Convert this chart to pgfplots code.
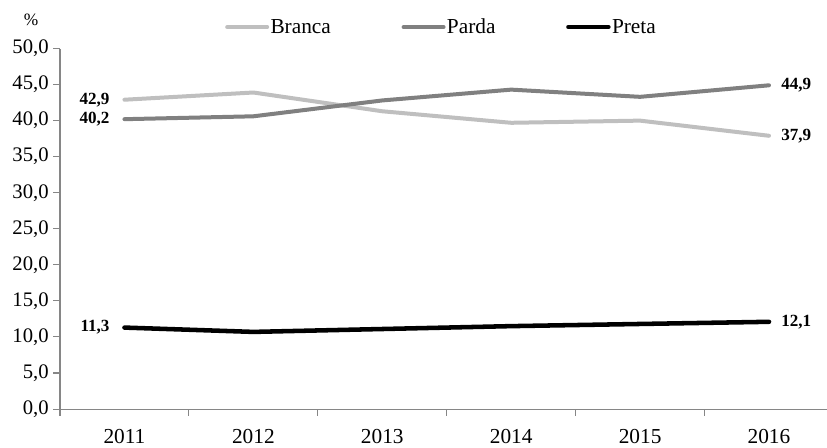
\documentclass[border=0pt]{standalone}
\usepackage{fontspec}
\setmainfont{Liberation Serif}
\usepackage{pgfplots}
\pgfplotsset{compat=1.18}
\definecolor{branca}{RGB}{191,191,191}
\definecolor{parda}{RGB}{128,128,128}
\definecolor{preta}{RGB}{0,0,0}
\definecolor{axisgray}{RGB}{134,134,134}
\begin{document}
\begin{tikzpicture}
\begin{axis}[
  name=ax,
  scale only axis,
  clip=false,
  width=575.25pt, height=270.4pt,
  xmin=-0.5, xmax=5.45,
  ymin=0, ymax=50,
  axis x line*=bottom, axis y line*=left,
  axis line style={draw=axisgray, line width=0.8pt},
  tick align=outside,
  major tick length=5pt,
  tick style={draw=axisgray, line width=0.8pt},
  xtick={0,...,5},
  xticklabels={2011,2012,2013,2014,2015,2016},
  xtick style={draw=none},
  extra x ticks={-0.5,0.5,1.5,2.5,3.5,4.5},
  extra x tick labels={},
  extra x tick style={xtick style={draw=axisgray, line width=0.8pt}},
  ytick={0,5,...,50},
  yticklabel style={font=\fontsize{15.5}{17}\selectfont},
  xticklabel style={font=\fontsize{16}{18}\selectfont, yshift=-6.5pt},
  /pgf/number format/.cd, fixed, fixed zerofill, precision=1, use comma, assume math mode=true,
  /pgfplots/.cd,
  legend columns=3,
  legend style={draw=none, fill=none, at={(0.497,1.0596)}, anchor=center,
    font=\fontsize{16}{18}\selectfont,
    /tikz/every even column/.append style={column sep=52pt},
    nodes={inner sep=1pt}},
  legend image code/.code={\draw[#1] (0pt,0pt) -- (30pt,0pt);},
  every axis plot/.append style={line width=3pt, line cap=round, line join=round},
]
\addplot[branca] coordinates {(0,42.9) (1,43.9) (2,41.3) (3,39.7) (4,40.0) (5,37.9)};
\addlegendentry{Branca}
\addplot[parda] coordinates {(0,40.2) (1,40.6) (2,42.8) (3,44.3) (4,43.3) (5,44.9)};
\addlegendentry{Parda}
\addplot[preta, line width=3.4pt] coordinates {(0,11.3) (1,10.7) (2,11.1) (3,11.5) (4,11.8) (5,12.1)};
\addlegendentry{Preta}
\begin{scope}[every node/.style={font=\fontsize{12.8}{14}\selectfont\bfseries, inner sep=1pt}]
\node[anchor=east, xshift=-10pt] at (axis cs:0,42.9) {42,9};
\node[anchor=east, xshift=-10pt] at (axis cs:0,40.2) {40,2};
\node[anchor=east, xshift=-10pt] at (axis cs:0,11.3) {11,3};
\node[anchor=west, xshift=8pt] at (axis cs:5,44.9) {44,9};
\node[anchor=west, xshift=8pt] at (axis cs:5,37.9) {37,9};
\node[anchor=west, xshift=8pt] at (axis cs:5,12.1) {12,1};
\end{scope}
\node[font=\fontsize{13}{15}\selectfont] at ([shift={(-21.75pt,21.4pt)}]rel axis cs:0,1) {\%};
\end{axis}
\pgfresetboundingbox
\path ([shift={(-45pt,-28.5pt)}]ax.south west) rectangle ([shift={(0pt,36.4pt)}]ax.north east);
\end{tikzpicture}
\end{document}
